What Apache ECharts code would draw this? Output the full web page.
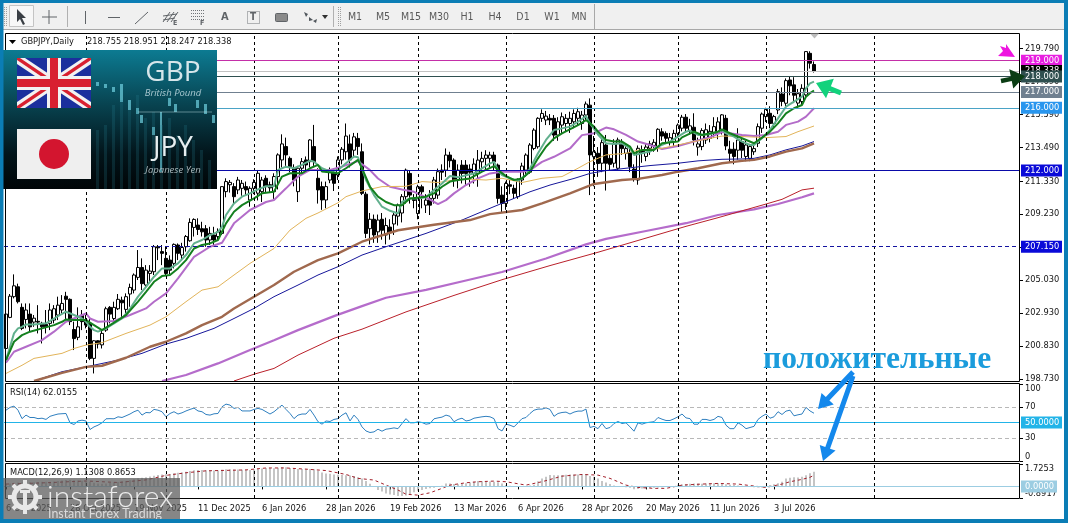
<!DOCTYPE html>
<html>
<head>
<meta charset="utf-8">
<title>GBPJPY Daily</title>
<style>html,body{margin:0;padding:0;background:#fff}#main{width:1068px;height:523px}</style>
<script src="https://cdn.jsdelivr.net/npm/echarts@6/dist/echarts.min.js"></script>
</head>
<body>
<div id="main"></div>
<script>
// Date labels, one every 16 sessions
const tickLabels = ['6 Oct 2025','28 Oct 2025','19 Nov 2025','11 Dec 2025','6 Jan 2026','28 Jan 2026','19 Feb 2026','13 Mar 2026','6 Apr 2026','28 Apr 2026','20 May 2026','11 Jun 2026','3 Jul 2026'];
// Session indexes of the month separators
const monthStarts = [20,40,62,83,103,125,147,168,190,217];
const priceTicks = [198.73,200.83,202.93,205.03,207.13,209.23,211.33,213.49,215.59,217.69,219.79];

// Daily bars: open, close, low, high
const candles = [
[200.67,202.86,200.5,202.9],[202.65,204.0,202.6,204.14],[203.97,204.66,203.86,205.39],[204.6,203.65,203.54,204.8],[203.29,201.95,201.84,203.54],
[202.52,203.12,201.95,203.54],[202.86,202.05,201.73,203.54],[202.35,202.6,202.05,202.8],[202.4,202.35,201.63,203.43],[202.27,202.05,200.99,202.37],
[202.2,202.05,201.63,203.12],[202.27,203.12,201.84,203.54],[202.48,203.2,202.27,203.43],[202.8,203.43,202.48,203.97],[203.12,203.54,202.9,204.07],
[204.0,203.8,202.48,204.28],[203.8,202.38,202.16,203.86],[201.88,201.3,200.57,202.38],[201.38,202.05,201.2,203.29],[202.8,202.38,201.84,203.12],
[202.48,202.16,201.95,202.8],[202.27,200.04,199.93,202.58],[200.04,201.16,199.08,201.2],[201.16,200.95,200.67,201.2],[200.9,201.63,200.67,201.84],
[201.84,203.2,201.73,203.33],[203.29,202.86,202.27,203.37],[202.58,203.29,202.44,203.65],[203.2,203.8,203.12,204.14],[203.75,203.58,202.69,203.97],
[203.16,203.97,202.9,204.18],[204.14,204.56,203.33,204.8],[204.39,205.35,204.18,205.45],[205.2,205.83,205.03,206.94],[205.83,204.8,204.39,206.41],
[204.71,205.66,204.6,205.98],[205.45,205.6,204.92,205.98],[205.56,207.15,205.35,207.26],[207.15,207.08,206.3,207.26],[206.84,206.73,205.98,207.26],
[206.41,205.45,205.28,207.15],[206.3,205.66,205.4,206.6],[206.09,207.3,205.77,207.36],[207.26,206.73,206.3,207.36],[206.62,207.1,206.3,207.4],
[207.15,207.8,206.84,207.9],[207.53,208.7,207.47,208.96],[208.38,208.89,207.8,208.96],[208.53,208.25,207.9,208.96],[208.3,208.1,207.8,208.74],
[208.3,207.58,207.15,208.53],[207.58,208.0,207.26,208.42],[207.9,207.58,207.15,208.42],[207.8,208.1,207.58,208.32],[208.0,210.98,207.9,211.0],
[210.66,211.3,210.3,211.51],[211.1,211.25,210.6,211.4],[210.98,210.34,209.9,211.2],[210.77,211.4,210.5,211.6],[210.87,211.19,210.4,211.4],
[210.98,210.77,210.4,211.3],[210.13,210.87,209.7,211.0],[210.87,211.25,210.5,211.45],[210.56,211.83,210.1,212.04],[210.66,211.4,210.0,211.6],
[211.51,210.98,210.6,211.7],[211.1,210.9,210.6,211.3],[210.66,211.62,210.2,211.83],[211.62,213.0,210.8,213.1],[212.68,213.7,212.2,214.31],
[213.53,213.0,212.3,214.1],[212.78,212.25,211.9,212.9],[212.15,211.4,211.0,212.4],[210.66,212.15,210.0,212.3],[212.15,212.57,211.8,212.8],
[212.68,212.36,212.0,212.9],[212.57,213.95,212.2,214.0],[213.53,212.57,212.3,214.91],[211.51,210.77,209.9,212.15],[210.98,210.13,209.5,211.3],
[210.13,210.98,209.6,211.3],[211.4,211.95,211.2,212.2],[211.83,211.19,210.7,212.15],[211.72,212.68,211.4,212.9],[212.68,213.36,212.4,213.5],
[213.2,214.2,212.7,215.0],[213.7,212.68,212.2,214.3],[213.3,214.15,212.9,214.4],[214.05,213.53,213.0,214.4],[213.2,210.55,210.44,213.73],
[210.5,208.0,207.7,210.65],[208.3,208.9,207.3,209.3],[208.9,207.9,207.4,209.2],[208.1,208.85,207.4,209.2],[208.9,208.2,207.6,209.3],
[207.9,208.5,207.3,209.0],[208.4,208.1,207.6,208.9],[208.6,209.17,207.9,209.4],[209.1,209.8,208.5,209.9],[209.3,210.34,208.7,210.5],
[210.34,212.03,209.9,212.13],[211.82,210.44,209.9,212.03],[210.2,210.1,209.6,210.5],[209.27,210.97,208.9,211.1],[210.97,210.65,209.6,211.1],
[209.8,210.12,209.3,210.5],[210.23,209.8,209.17,210.76],[210.23,211.4,209.9,211.6],[210.44,211.93,210.2,212.13],[212.03,211.9,211.4,212.4],
[212.03,212.99,211.6,213.41],[212.99,212.63,212.2,213.2],[212.67,211.4,210.97,212.78],[211.4,212.03,210.87,212.4],[212.35,211.82,211.18,212.67],
[212.35,211.82,211.08,212.67],[212.1,211.9,210.97,212.4],[211.82,212.42,211.18,212.78],[211.82,212.67,210.97,213.31],[212.56,212.78,212.03,213.2],
[212.78,212.99,212.1,213.3],[212.78,212.99,212.2,213.2],[212.99,212.56,212.03,213.2],[212.35,210.23,209.9,212.45],[210.44,209.91,209.3,211.0],
[209.91,211.18,209.5,211.3],[211.1,211.0,210.5,211.4],[210.87,210.55,210.2,211.1],[210.34,211.4,210.2,211.5],[211.4,212.29,211.1,212.5],
[212.03,212.99,211.6,213.1],[211.9,213.63,211.8,213.75],[213.41,214.58,213.3,214.7],[213.52,215.33,213.4,215.4],[215.33,215.64,215.1,215.9],
[215.22,215.47,214.9,215.8],[215.33,215.22,214.9,215.6],[215.33,214.26,213.9,215.54],[214.26,215.11,213.9,215.4],[214.9,215.43,214.4,215.7],
[215.0,215.33,214.5,215.6],[215.0,215.33,214.4,215.75],[215.11,215.64,214.7,215.9],[215.33,215.75,214.9,216.0],[215.0,215.54,214.6,215.8],
[215.54,216.24,215.2,216.4],[216.17,213.0,210.44,216.6],[212.88,213.2,211.0,214.2],[213.1,212.45,211.6,213.5],[212.47,213.78,211.9,214.0],
[213.63,212.47,210.73,214.27],[212.78,212.4,212.0,213.0],[212.47,213.7,212.2,214.0],[212.15,213.95,212.0,214.1],[213.7,213.4,213.0,214.0],
[213.1,213.4,212.7,213.7],[213.15,212.25,211.9,213.4],[212.1,211.51,211.3,212.4],[211.4,213.42,211.1,213.6],[213.3,213.15,212.5,213.6],
[212.9,213.5,212.6,213.7],[213.42,213.7,213.0,213.9],[213.6,213.8,213.2,214.0],[213.53,214.63,213.2,214.7],[214.47,214.2,213.9,214.7],
[214.37,214.06,213.7,214.5],[213.85,214.1,213.6,214.4],[213.85,214.37,213.5,214.6],[214.37,214.9,214.1,215.0],[214.7,215.4,214.5,215.55],
[215.4,214.7,214.5,215.6],[214.55,214.85,214.3,215.3],[214.76,213.95,213.6,215.65],[213.5,213.7,212.95,214.1],[213.53,214.55,213.3,214.7],
[213.95,214.6,213.7,215.0],[214.05,214.5,213.8,214.9],[214.37,214.8,214.1,215.4],[214.37,215.1,214.0,215.4],[214.55,215.55,214.3,215.6],
[215.33,213.57,213.3,215.55],[213.36,213.1,212.5,213.9],[213.36,212.9,212.4,213.8],[213.3,213.95,212.7,214.7],[213.85,213.3,212.8,214.0],
[212.9,213.63,212.6,213.9],[212.78,213.53,212.6,213.7],[213.2,213.4,213.0,213.7],[213.74,214.8,213.5,215.0],[214.7,215.6,214.4,215.7],
[215.44,215.9,215.1,216.0],[215.65,215.0,214.7,216.1],[215.0,215.44,214.7,215.55],[215.86,217.03,215.6,217.2],[216.88,216.4,216.1,217.3],
[216.29,217.73,216.1,217.87],[217.77,217.4,216.8,218.0],[217.46,216.8,216.3,217.95],[216.3,216.9,216.0,217.2],[216.4,217.24,216.2,217.5],
[216.82,219.58,216.7,219.6],[219.47,218.84,218.5,219.6],[218.755,218.338,218.247,218.951]
];

// Moving averages as [session, price] vertices
const fastEma = [[0,199.93],[1,200.78],[2,201.63],[3,201.95],[4,202.05],[5,202.2],[7,202.2],[10,202.27],[12,202.58],[15,203.01],[17,202.8],[19,202.58],[20,202.37],[21,202.05],[22,201.84],[23,201.74],[25,201.95],[27,202.27],[29,202.58],[31,203.2],[33,203.97],[35,204.6],[37,205.24],[39,205.77],[41,205.77],[43,206.09],[45,206.62],[47,207.36],[49,207.58],[51,207.89],[53,208.1],[54,208.42],[55,209.17],[57,209.91],[59,210.34],[61,210.55],[63,210.8],[65,211.0],[67,211.0],[68,212.04],[70,212.25],[72,212.15],[74,212.36],[76,212.64],[77,212.57],[79,212.15],[81,211.94],[83,212.04],[85,212.47],[87,212.9],[88,212.85],[90,211.4],[92,210.44],[94,209.7],[96,209.44],[98,209.27],[99,210.0],[101,210.23],[103,210.23],[105,210.3],[107,210.76],[109,211.18],[111,211.65],[113,211.57],[115,211.7],[117,211.82],[119,212.14],[121,212.46],[122,212.56],[123,212.03],[124,211.72],[126,211.5],[128,211.36],[130,211.72],[131,212.14],[133,213.1],[135,213.95],[137,214.58],[139,214.69],[141,214.8],[143,215.11],[145,215.47],[146,215.0],[148,214.3],[150,213.74],[152,213.7],[154,213.74],[156,213.42],[157,213.0],[159,213.1],[161,213.21],[163,213.53],[166,213.85],[168,214.17],[170,214.48],[171,214.55],[173,214.27],[176,214.31],[178,214.48],[179,214.59],[180,214.38],[182,214.17],[184,213.85],[186,213.63],[187,213.63],[189,214.06],[191,214.59],[193,215.33],[195,216.07],[197,216.39],[199,216.71],[200,217.24],[201,217.56],[202,217.67]];
const midEma = [[0,199.93],[2,201.1],[4,201.52],[6,201.74],[9,201.95],[12,202.16],[14,202.37],[15,202.52],[17,202.48],[20,202.48],[22,202.16],[24,201.84],[26,202.16],[28,202.48],[30,202.8],[33,203.65],[35,204.28],[37,204.92],[39,205.28],[41,205.35],[43,205.77],[45,206.3],[47,207.04],[49,207.26],[51,207.36],[53,207.58],[55,208.64],[57,209.38],[59,209.8],[62,210.23],[64,210.55],[67,210.66],[69,211.62],[71,211.83],[74,211.83],[76,212.15],[78,212.36],[79,211.94],[83,211.83],[85,212.15],[88,212.68],[89,212.14],[91,210.97],[93,210.34],[95,210.0],[97,209.8],[99,209.8],[101,210.23],[105,210.34],[107,210.55],[109,210.97],[111,211.3],[113,211.4],[116,211.5],[119,211.93],[122,212.29],[123,212.03],[125,211.65],[127,211.4],[129,211.5],[131,211.93],[133,212.78],[135,213.52],[137,214.05],[139,214.37],[143,214.9],[145,215.22],[147,214.8],[148,214.48],[150,213.95],[152,213.85],[154,213.85],[156,213.53],[157,213.1],[159,213.31],[162,213.31],[164,213.74],[168,213.85],[169,214.12],[172,214.48],[174,214.27],[178,214.48],[179,214.63],[181,214.38],[184,214.06],[187,213.74],[189,214.1],[191,214.48],[193,215.01],[195,215.65],[197,215.97],[199,216.18],[200,216.71],[201,216.93],[202,217.1]];
const slowEma = [[0,199.76],[2,200.46],[5,200.78],[9,201.2],[12,201.74],[15,202.37],[18,202.69],[20,202.9],[21,202.58],[23,202.37],[27,202.42],[31,202.8],[35,203.22],[37,203.65],[40,204.18],[43,205.13],[47,206.51],[51,207.15],[54,207.4],[57,208.64],[61,209.49],[65,210.0],[67,210.13],[70,210.87],[73,211.62],[76,212.04],[81,212.04],[84,212.25],[88,212.6],[91,212.03],[93,211.5],[96,210.97],[99,210.8],[102,210.65],[105,210.3],[108,209.87],[110,210.12],[112,210.55],[115,211.08],[118,211.5],[121,211.82],[124,211.93],[129,211.93],[131,212.03],[134,212.56],[137,212.88],[141,213.41],[144,214.26],[147,214.38],[150,214.74],[152,214.63],[155,214.27],[158,213.85],[161,213.63],[164,213.38],[168,213.57],[172,213.85],[176,214.12],[179,214.45],[184,214.27],[187,214.2],[190,214.27],[193,214.48],[195,214.91],[198,215.12],[200,215.44],[202,215.97]];
const tanSma = [[0,199.08],[4,199.6],[7,200.04],[14,200.36],[17,200.67],[20,200.89],[24,201.04],[30,201.63],[36,202.16],[40,202.69],[45,203.65],[49,204.39],[53,204.6],[57,205.35],[61,206.09],[67,207.04],[71,208.21],[75,208.96],[78,209.3],[83,209.95],[85,210.34],[89,210.7],[94,210.98],[100,211.0],[104,211.3],[108,211.24],[112,211.4],[116,211.45],[120,211.4],[124,211.51],[129,211.24],[134,211.51],[139,211.62],[143,212.15],[146,212.57],[150,213.0],[155,213.1],[158,213.3],[164,213.42],[172,213.85],[179,214.2],[184,214.17],[190,214.1],[195,214.17],[198,214.48],[202,214.84]];
const navySma = [[7,198.6],[14,199.19],[20,199.5],[28,199.93],[34,200.36],[40,200.95],[45,201.31],[52,201.95],[57,202.58],[62,203.22],[67,203.97],[73,204.71],[78,205.35],[83,205.88],[89,206.62],[95,207.15],[105,208.0],[114,208.85],[121,209.6],[125,210.02],[131,210.65],[136,211.08],[142,211.5],[146,211.82],[150,212.0],[155,212.15],[161,212.32],[168,212.47],[173,212.62],[179,212.72],[184,212.74],[187,212.78],[191,213.0],[195,213.32],[199,213.57],[202,213.85]];
const brownEma = [[7,198.6],[14,199.12],[20,199.5],[24,199.57],[30,200.08],[36,200.78],[40,201.1],[45,201.63],[49,202.16],[54,202.69],[57,203.22],[62,203.97],[67,204.71],[72,205.56],[78,206.3],[83,206.73],[89,207.47],[98,208.2],[107,208.55],[116,208.85],[121,209.23],[129,209.49],[134,209.91],[141,210.55],[147,211.15],[154,211.4],[158,211.47],[164,211.72],[168,211.93],[173,212.15],[179,212.47],[184,212.62],[187,212.68],[191,212.9],[195,213.21],[199,213.42],[202,213.74]];
const longEma = [[39,198.6],[45,198.98],[53,199.72],[61,200.57],[67,201.2],[73,201.84],[82,202.73],[89,203.37],[95,203.9],[105,204.4],[115,205.0],[124,205.54],[135,206.4],[145,207.3],[150,207.65],[160,208.15],[170,208.65],[178,209.17],[187,209.53],[193,209.87],[199,210.3],[202,210.55]];
const longSma = [[57,198.6],[62,199.03],[67,199.4],[73,200.25],[82,201.32],[89,201.9],[100,203.0],[112,204.05],[124,205.05],[136,205.95],[148,206.8],[160,207.7],[170,208.45],[178,209.0],[190,209.87],[194,210.17],[199,210.77],[202,210.88]];

// RSI(14), one value per session
const rsi = [66,69.6,71.3,66,55,59.6,56.5,56.5,55,55.6,54,58,59.6,61,61.4,61.7,49.6,47.4,52,53,52,40.9,44.3,46.5,49.6,54.8,55,54.8,57.4,56.5,58.7,61,64,66,59.6,63,62.6,67,66,64,57.4,61.7,64,61,62.6,65,67,68.7,65,64,60.4,59.6,61.3,61.7,70.4,73.9,72.6,68.3,69.6,65,65,65,67,68.3,67,64,61,64,68.3,72.6,67,61.7,55,59.6,61,61,67,59.6,51,47.8,52,51.3,54,55,59.6,62.6,52,59.6,54,44.3,39,37,37.8,41.3,38.7,41.3,42,43,42,48.7,55,49.6,49.6,51,50,47.8,48.7,54.8,56,57,59.6,58,51,54,55.6,52,53,55.6,56.5,57.4,58,57.4,55,42,39,47.8,46.5,44.3,49.6,55,56.5,61.7,66,67.4,67.4,69,67,58,61.7,63,63.5,61,63.5,64.8,64.8,67.4,43.5,45,42,48.7,42,43.5,48.7,51.3,48.7,49.6,44.3,38.7,49.6,47.8,49.6,50.4,51,56.5,54.3,52.6,52.6,54.8,57.4,61,56,55,47.8,47.8,54,54,52.6,54,58,56.5,46.5,42,42,49.6,46.5,42,43.5,45,54,58,61,55.6,57.4,64,60.4,64.8,66,58.7,60,61,69.6,65,62.0155];

// MACD(12,26,9) histogram per session and signal line vertices
const macdHist = [.20,.22,.28,.30,.30,.32,.33,.33,.34,.35,.35,.36,.38,.42,.46,.50,.52,.48,.46,.44,.42,.36,.28,.22,.20,.22,.26,.30,.34,.38,.42,.48,.55,.62,.66,.70,.76,.82,.88,.92,.94,.96,1.02,1.06,1.08,1.12,1.18,1.24,1.26,1.26,1.24,1.22,1.22,1.22,1.28,1.32,1.32,1.30,1.30,1.28,1.28,1.26,1.30,1.36,1.38,1.42,1.42,1.40,1.44,1.50,1.48,1.42,1.38,1.34,1.34,1.32,1.34,1.32,1.20,1.08,1.00,.98,.92,.90,.88,.86,.84,.80,.70,.60,.42,.20,-.05,-.28,-.40,-.55,-.62,-.67,-.74,-.74,-.70,-.60,-.45,-.33,-.28,-.20,-.15,-.10,-.03,.05,.23,.22,.18,.16,.18,.25,.30,.36,.41,.40,.38,.38,.36,.32,.23,.10,.06,.03,.03,.03,.03,.08,.12,.40,.61,.75,.87,.85,.85,.87,.90,.92,.92,.92,.94,.95,.80,.74,.60,.42,.30,.18,.08,.02,-.02,-.06,-.10,-.22,-.20,-.17,-.15,-.13,-.10,-.08,-.06,-.02,.01,.03,.12,.15,.18,.2,.22,.23,.2,.22,.23,.25,.24,.22,.16,.12,.10,.08,.05,.02,-.02,-.06,-.08,-.08,-.05,.10,.16,.25,.36,.61,.66,.70,.68,.75,.85,1.02,1.1308];
const macdSignal = [[0,.18],[10,.28],[20,.42],[28,.3],[35,.5],[40,.85],[45,1.05],[50,1.2],[60,1.27],[65,1.42],[70,1.42],[75,1.33],[80,1.22],[85,.92],[88,.62],[92,.49],[95,.1],[98,-.28],[100,-.6],[103,-.67],[106,-.49],[109,-.15],[111,.1],[115,.28],[118,.36],[122,.41],[125,.36],[130,.1],[134,.36],[139,.79],[144,.92],[148,.87],[151,.62],[155,.1],[158,-.08],[162,-.15],[165,-.15],[169,.1],[174,.18],[178,.23],[183,.18],[187,.03],[190,-.08],[194,.18],[196,.36],[199,.54],[201,.7],[202,.8653]];

// Time axis: 254 slots so the chart keeps its empty shift area on the right
const slotCount = 254;
const categories = [];
for (let i = 0; i < slotCount; i++) categories.push(i % 16 === 0 && tickLabels[i / 16] ? tickLabels[i / 16] : '');

const UI_FONT = '"DejaVu Sans Condensed", "DejaVu Sans", sans-serif';
const labelSize = 9.2;
const TEXT = '#141414';

function priceBox(value, bg, digits, lineColor) {
  return {
    yAxis: value,
    lineStyle: {color: lineColor || bg, width: 1, type: 'solid'},
    label: {
      show: true, position: 'end', distance: 1,
      formatter: () => value.toFixed(digits),
      backgroundColor: bg, color: '#fff',
      fontFamily: UI_FONT, fontSize: labelSize,
      padding: [1, 4, 1, 4], width: 33, height: 10, lineHeight: 10
    }
  };
}
function separators() {
  return {
    silent: true, symbol: 'none', animation: false, precision: 4,
    label: {show: false},
    lineStyle: {color: '#000', width: 1, type: [3, 3], opacity: 1},
    data: monthStarts.map(i => ({xAxis: i}))
  };
}
function maLine(name, data, color, width) {
  return {name, type: 'line', xAxisIndex: 0, yAxisIndex: 0, data, showSymbol: false, symbol: 'none',
    lineStyle: {color, width}, animation: false, silent: true, z: 3};
}

// ---- window chrome, toolbar and annotation helpers ----
const g = [];
const rect = (x, y, w, h, fill, extra) => g.push(Object.assign({type: 'rect', shape: {x, y, width: w, height: h}, style: {fill}, silent: true, z: 50}, extra || {}));
const frame = (x, y, w, h) => g.push({type: 'rect', shape: {x: x + .5, y: y + .5, width: w, height: h}, style: {fill: 'none', stroke: '#000', lineWidth: 1}, silent: true, z: 40});
const seg = (x1, y1, x2, y2, stroke, lw, z) => g.push({type: 'line', shape: {x1, y1, x2, y2}, style: {stroke, lineWidth: lw || 1}, silent: true, z: z || 50});
const poly = (points, fill, z) => g.push({type: 'polygon', shape: {points}, style: {fill}, silent: true, z: z || 60});
const circle = (cx, cy, r, style, z) => g.push({type: 'circle', shape: {cx, cy, r}, style, silent: true, z: z || 60});
const txt = (x, y, text, o) => g.push({type: 'text', x, y, silent: true, z: (o && o.z) || 60, style: Object.assign({text, fill: TEXT, font: labelSize + 'px ' + UI_FONT, verticalAlign: 'middle', align: 'left'}, o || {})});

// Toolbar
rect(0, 0, 1068, 30, '#f0f0f0');
seg(0, 29.5, 1068, 29.5, '#a8a8a8');
[4, 6].forEach(x => { for (let y = 7; y < 27; y += 2) rect(x, y, 1, 1, '#a0a0a0'); });
rect(9.5, 5.5, 24, 21, '#f6f6f6', {style: {fill: '#f7f7f7', stroke: '#c4c4c4', lineWidth: 1}});
poly([[17, 9], [17, 22], [20, 19], [23, 25], [25, 24], [22, 18], [26, 18]], '#3a3f45');
seg(49, 10, 49, 24, '#606468'); seg(42, 17, 57, 17, '#606468');
seg(67.5, 6, 67.5, 27, '#b0b0b0');
seg(85.5, 11, 85.5, 24, '#606468');
seg(108, 17.5, 120, 17.5, '#606468');
seg(135, 24, 148, 12, '#606468');
[0, 4, 8].forEach(d => seg(163 + d, 22, 170 + d, 12, '#606468'));
seg(163, 16, 177, 14, '#606468'); seg(163, 20, 175, 18, '#606468');
txt(173, 23, 'E', {font: 'bold 7px ' + UI_FONT, fill: '#606468'});
[10, 13, 16, 19].forEach(y => { for (let x = 191; x < 204; x += 2) rect(x, y, 1, 1, '#707478'); });
txt(200, 23, 'F', {font: 'bold 7px ' + UI_FONT, fill: '#606468'});
txt(221, 17.5, 'A', {font: 'bold 11px ' + UI_FONT, fill: '#606468'});
g.push({type: 'rect', shape: {x: 247.5, y: 11.5, width: 12, height: 12}, style: {fill: 'none', stroke: '#707478', lineWidth: 1, lineDash: [1, 1]}, silent: true, z: 50});
txt(250, 17.5, 'T', {font: 'bold 10px ' + UI_FONT, fill: '#606468'});
g.push({type: 'rect', shape: {x: 275.5, y: 13.5, width: 12, height: 8, r: 1}, style: {fill: '#8a8a8a', stroke: '#606468', lineWidth: 1}, silent: true, z: 50});
poly([[304, 12], [308, 14], [306, 17]], '#50565c', 60); poly([[309, 17], [313, 20], [309, 21]], '#50565c', 60); poly([[313, 21], [317, 19], [316, 23]], '#50565c', 60);
poly([[322, 15], [328, 15], [325, 19]], '#303030', 60);
seg(333.5, 6, 333.5, 27, '#b0b0b0');
[338, 340].forEach(x => { for (let y = 7; y < 27; y += 2) rect(x, y, 1, 1, '#a0a0a0'); });
[['M1', 355], ['M5', 383], ['M15', 411], ['M30', 439], ['H1', 467], ['H4', 495], ['D1', 523], ['W1', 552], ['MN', 579]].forEach(t =>
  txt(t[1], 17.5, t[0], {align: 'center', fill: '#5a5a5a', font: '10.5px ' + UI_FONT}));
g.push({type: 'rect', shape: {x: 511.5, y: 5.5, width: 24, height: 21}, style: {fill: '#f7f7f7', stroke: '#c4c4c4', lineWidth: 1}, silent: true, z: 49});
seg(594.5, 4, 594.5, 29, '#a8a8a8');

// Pane frames
frame(5, 33, 1014, 348);
frame(5, 383, 1014, 78);
frame(5, 463, 1014, 35);

// Window border
rect(0, 0, 1068, 3, '#0b7db5', {z: 70});
rect(0, 0, 3.5, 523, '#0b7db5', {z: 70});
rect(1064, 0, 4, 523, '#0b7db5', {z: 70});
rect(0, 519, 1068, 4, '#0b7db5', {z: 70});

// Chart heading
poly([[9, 40], [16, 40], [12.5, 44]], '#000', 45);
txt(21, 41.5, 'GBPJPY,Daily', {z: 45});
txt(87, 41.5, '218.755 218.951 218.247 218.338', {z: 45});
txt(10, 392.5, 'RSI(14) 62.0155', {z: 45});
txt(10, 472.5, 'MACD(12,26,9) 1.1308 0.8653', {z: 45});
poly([[810, 33.5], [819, 33.5], [814.5, 38.5]], '#bdbdbd', 45);

// Currency pair panel
g.push({type: 'rect', shape: {x: 3, y: 50, width: 214, height: 139}, silent: true, z: 55, style: {fill: {type: 'linear', x: 0, y: 0, x2: 0, y2: 1, colorStops: [{offset: 0, color: '#0c7b92'}, {offset: .4, color: '#08424f'}, {offset: .75, color: '#02141a'}, {offset: 1, color: '#000507'}]}}});
[[96, 82, 3, 4], [104, 84, 3, 4], [112, 87, 3, 5], [120, 84, 3, 18], [128, 100, 3, 10], [136, 108, 3, 6], [140, 115, 3, 8], [152, 127, 3, 8], [160, 112, 2, 60], [168, 98, 3, 8], [174, 104, 3, 8], [196, 100, 3, 8], [204, 104, 3, 10], [212, 115, 3, 8]].forEach(b =>
  rect(b[0], b[1], b[2], b[3], 'rgba(120,220,235,.65)', {z: 56}));
[96, 104, 112, 120, 128, 136, 144, 152, 160, 168, 176, 184, 192, 200, 208].forEach((x, k) => {
  const top = [130, 125, 105, 100, 110, 95, 118, 112, 125, 118, 135, 125, 140, 150, 160][k];
  rect(x, top, 3, 189 - top, 'rgba(40,130,150,.22)', {z: 56});
});
seg(138, 112, 212, 112, 'rgba(200,230,235,.45)', 1, 56);
rect(17, 58, 74, 50, '#1b2f9d', {z: 57});
poly([[17, 58], [25, 58], [91, 102], [91, 108], [83, 108], [17, 64]], '#f2f2f2', 58);
poly([[91, 58], [83, 58], [17, 102], [17, 108], [25, 108], [91, 64]], '#f2f2f2', 58);
poly([[17, 58], [20, 58], [91, 106], [91, 108], [88, 108], [17, 60]], '#d82030', 59);
poly([[91, 58], [88, 58], [17, 106], [17, 108], [20, 108], [91, 60]], '#d82030', 59);
rect(47, 58, 14, 50, '#f2f2f2', {z: 60}); rect(17, 76, 74, 14, '#f2f2f2', {z: 60});
rect(50, 58, 8, 50, '#d82030', {z: 61}); rect(17, 79, 74, 8, '#d82030', {z: 61});
rect(17, 129, 74, 50, '#efefef', {z: 57});
circle(54, 154, 15, {fill: '#d3152f'}, 58);
const PANEL_FONT = '"Open Sans", "Noto Sans", sans-serif';
txt(173, 73, 'GBP', {align: 'center', fill: '#d6e6ea', font: '28px ' + PANEL_FONT});
txt(173, 93.5, 'British Pound', {align: 'center', fill: '#a9c8d0', font: 'italic 9.5px ' + PANEL_FONT});
txt(173, 148, 'JPY', {align: 'center', fill: '#e6eef0', font: '28px ' + PANEL_FONT});
txt(173, 170.5, 'Japanese Yen', {align: 'center', fill: '#a9b8bc', font: 'italic 9.5px ' + PANEL_FONT});

// Annotations
txt(763, 360, 'положительные', {fill: '#1b9cdc', font: 'bold 31.6px "Liberation Serif", serif', z: 65});
const arrow = (x1, y1, x2, y2, w, head, color, spread) => {
  const dx = x2 - x1, dy = y2 - y1, L = Math.hypot(dx, dy), ux = dx / L, uy = dy / L, px = -uy, py = ux, k = spread || .55;
  const bx = x2 - ux * head, by = y2 - uy * head;
  poly([[x1 + px * w / 2, y1 + py * w / 2], [bx + px * w / 2, by + py * w / 2], [bx + px * head * k, by + py * head * k], [x2, y2],
        [bx - px * head * k, by - py * head * k], [bx - px * w / 2, by - py * w / 2], [x1 - px * w / 2, y1 - py * w / 2]], color, 65);
};
arrow(853, 372, 818, 409, 5, 14, '#1488ec', .6);
arrow(853, 376, 823, 461, 5, 14, '#1488ec', .6);
poly([[998, 56], [1015, 57], [1006, 44], [1006, 48], [1000, 46], [1003, 51]], '#ee14e0', 65);
arrow(1001, 81, 1025, 76, 4.5, 14, '#0b3d14', .7);
arrow(841, 93, 816, 83, 5, 15, '#12d27c', .7);

// Broker watermark
rect(3, 478, 177, 41, 'rgba(92,92,92,.74)', {z: 66});
circle(25, 497, 11, {fill: 'none', stroke: '#e8e8e8', lineWidth: 5}, 67);
for (let a = 0; a < 8; a++) {
  const t = a * Math.PI / 4, c = Math.cos(t), s = Math.sin(t);
  seg(25 + c * 13, 497 + s * 13, 25 + c * 17, 497 + s * 17, '#e8e8e8', 4, 67);
}
rect(20, 490, 10, 3, '#e8e8e8', {z: 67}); rect(23, 490, 4, 16, '#e8e8e8', {z: 67});
txt(47, 497, 'instaforex', {fill: '#ececec', font: '300 30px Lato, "Open Sans", sans-serif', z: 67});
txt(48, 514, 'Instant Forex Trading', {fill: '#dcdcdc', font: '12.4px Lato, sans-serif', z: 67});

const yAxisStyle = {
  type: 'value', position: 'right', scale: true,
  axisLine: {show: false}, splitLine: {show: false},
  axisTick: {show: true, length: 3, lineStyle: {color: '#000'}},
};
const xAxisBase = {
  type: 'category', data: categories, boundaryGap: true,
  axisLine: {show: false}, splitLine: {show: false}
};

const option = {
  backgroundColor: '#fff',
  animation: false,
  graphic: {elements: g},
  grid: [
    {left: 4, top: 33, width: 1016, height: 348},
    {left: 4, top: 384, width: 1016, height: 77},
    {left: 4, top: 464, width: 1016, height: 34}
  ],
  xAxis: [
    Object.assign({gridIndex: 0, axisTick: {show: false}, axisLabel: {show: false}}, xAxisBase),
    Object.assign({gridIndex: 1, axisTick: {show: false}, axisLabel: {show: false}}, xAxisBase),
    Object.assign({gridIndex: 2, position: 'bottom',
      axisTick: {show: true, length: 3, alignWithLabel: true, lineStyle: {color: '#000'}, interval: (i, v) => v !== ''},
      axisLabel: {show: true, interval: (i, v) => v !== '', align: 'left', margin: 6, color: TEXT, fontFamily: UI_FONT, fontSize: labelSize, hideOverlap: false}
    }, xAxisBase)
  ],
  yAxis: [
    Object.assign({}, yAxisStyle, {gridIndex: 0, min: 198.599, max: 220.764,
      axisLabel: {customValues: priceTicks, formatter: v => v.toFixed(3), margin: 5, color: TEXT, fontFamily: UI_FONT, fontSize: labelSize},
      axisTick: {show: true, length: 3, customValues: priceTicks, lineStyle: {color: '#000'}}}),
    Object.assign({}, yAxisStyle, {gridIndex: 1, min: 0, max: 100,
      axisLabel: {customValues: [0, 30, 70, 100], margin: 5, color: TEXT, fontFamily: UI_FONT, fontSize: labelSize, verticalAlignMinLabel: 'bottom', verticalAlignMaxLabel: 'top'},
      axisTick: {show: true, length: 3, customValues: [0, 30, 70, 100], lineStyle: {color: '#000'}}}),
    Object.assign({}, yAxisStyle, {gridIndex: 2, min: -0.8917, max: 1.7253,
      axisLabel: {customValues: [-0.8917, 1.7253], formatter: v => v.toFixed(4), margin: 5, color: TEXT, fontFamily: UI_FONT, fontSize: labelSize, verticalAlignMinLabel: 'bottom', verticalAlignMaxLabel: 'top'},
      axisTick: {show: true, length: 3, customValues: [-0.8917, 1.7253], lineStyle: {color: '#000'}}})
  ],
  series: [
    {
      name: 'GBPJPY', type: 'candlestick', xAxisIndex: 0, yAxisIndex: 0, data: candles,
      barWidth: 3, silent: true, animation: false, z: 2,
      itemStyle: {color: '#fff', color0: '#000', borderColor: '#000', borderColor0: '#000', borderWidth: 1},
      markLine: {
        silent: true, symbol: 'none', animation: false, precision: 4, z: 6,
        data: [
          priceBox(219, '#e81ee0', 3, '#c42fa8'),
          priceBox(218.338, '#000000', 3, '#c2c2c2'),
          priceBox(218, '#2f4f4f', 3),
          priceBox(217, '#708090', 3),
          priceBox(216, '#2996ee', 3, '#4aa3c6'),
          priceBox(212, '#0a0ad8', 3, '#0a0aa8'),
          Object.assign(priceBox(207.15, '#0a0ad8', 3), {lineStyle: {color: '#1414a0', width: 1, type: [4, 3]}})
        ]
      }
    },
    {type: 'line', xAxisIndex: 0, yAxisIndex: 0, data: [], markLine: separators(), z: 1, silent: true},
    maLine('EMA slow', slowEma, '#b36cc9', 2),
    maLine('SMA tan', tanSma, '#e2b45a', 1),
    maLine('SMA navy', navySma, '#16169a', 1),
    maLine('EMA brown', brownEma, '#a0694e', 2.4),
    maLine('EMA long', longEma, '#b56ccb', 2.2),
    maLine('SMA long', longSma, '#b9202a', 1),
    maLine('EMA fast', fastEma, '#62b08e', 2),
    maLine('EMA mid', midEma, '#14801f', 2),
    {
      name: 'RSI', type: 'line', xAxisIndex: 1, yAxisIndex: 1, data: rsi, symbol: 'none', showSymbol: false,
      lineStyle: {color: '#2f7fbf', width: 1}, animation: false, silent: true, z: 3,
      markLine: {
        silent: true, symbol: 'none', animation: false, precision: 4,
        data: [
          {yAxis: 70, lineStyle: {color: '#b8b8b8', width: 1, type: [4, 3]}, label: {show: false}},
          {yAxis: 30, lineStyle: {color: '#b8b8b8', width: 1, type: [4, 3]}, label: {show: false}},
          priceBox(50, '#22b4e8', 4)
        ]
      }
    },
    {type: 'line', xAxisIndex: 1, yAxisIndex: 1, data: [], markLine: separators(), z: 1, silent: true},
    {
      name: 'MACD', type: 'bar', xAxisIndex: 2, yAxisIndex: 2, data: macdHist, barWidth: 1,
      itemStyle: {color: '#8c8c8c'}, animation: false, silent: true, z: 2,
      markLine: {
        silent: true, symbol: 'none', animation: false, precision: 4,
        data: [Object.assign(priceBox(0, '#9ccde2', 4), {label: {show: true, position: 'end', distance: 1, formatter: () => '0.0000', backgroundColor: '#9ccde2', color: '#fff', fontFamily: UI_FONT, fontSize: labelSize, padding: [1, 4, 1, 4], width: 28, height: 10, lineHeight: 10}})]
      }
    },
    {name: 'Signal', type: 'line', xAxisIndex: 2, yAxisIndex: 2, data: macdSignal, symbol: 'none', showSymbol: false,
      lineStyle: {color: '#a3202a', width: 1, type: [3, 3]}, animation: false, silent: true, z: 3},
    {type: 'line', xAxisIndex: 2, yAxisIndex: 2, data: [], markLine: separators(), z: 1, silent: true}
  ]
};
const chart = echarts.init(document.getElementById('main'), null, {renderer: 'canvas', width: 1068, height: 523});
chart.setOption(option);
</script>
</body>
</html>
